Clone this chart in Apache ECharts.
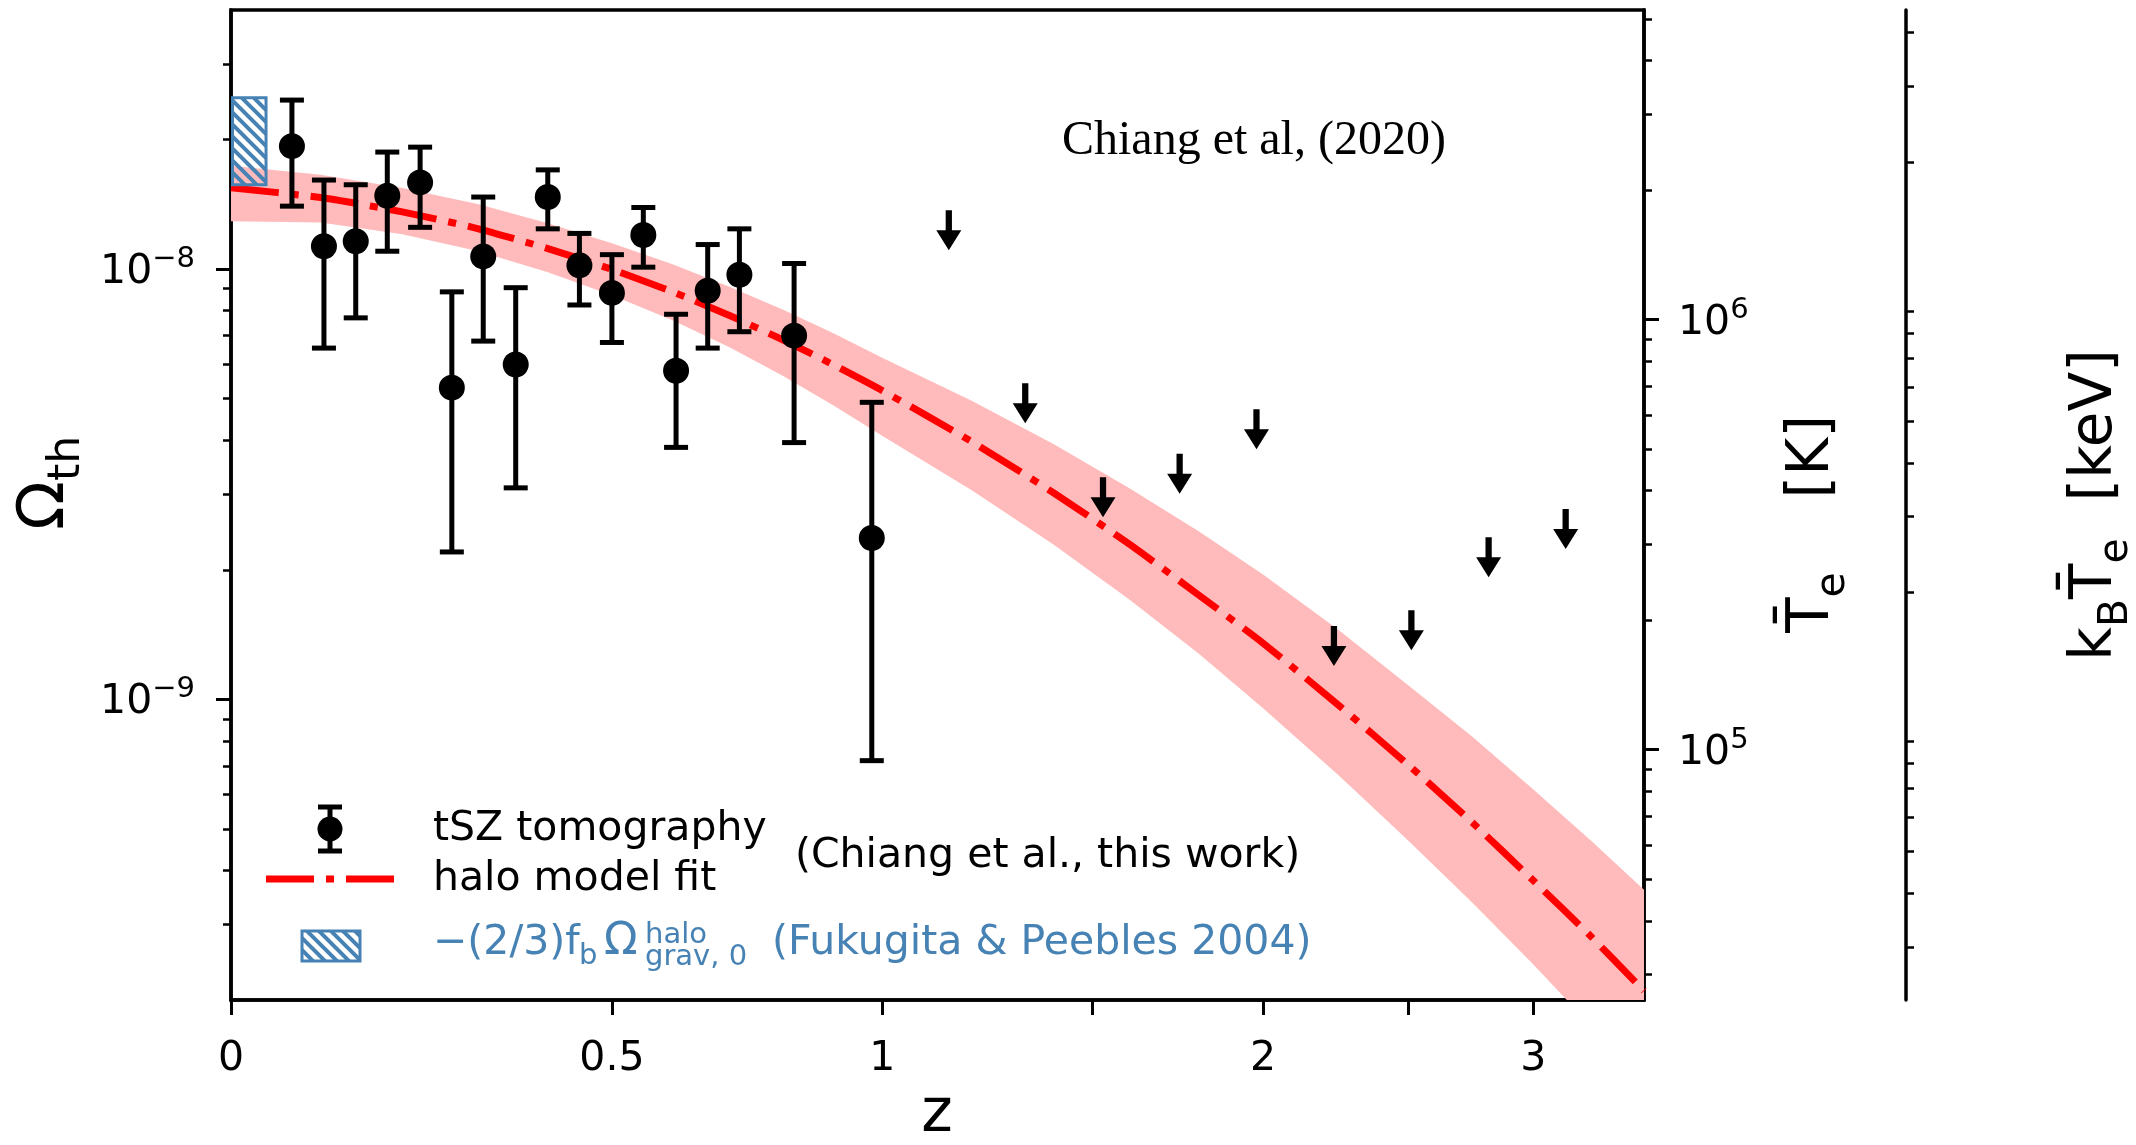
<!DOCTYPE html>
<html>
<head>
<meta charset="utf-8">
<script src="https://cdn.jsdelivr.net/npm/echarts@6/dist/echarts.min.js"></script>
<style>
html, body { margin: 0; padding: 0; background: #fff; }
#chart { width: 2136px; height: 1145px; }
</style>
</head>
<body>
<div id="chart"></div>
<script>
// tSZ tomography points: redshift, Omega_th and the ends of each error bar
const pointZ = [0.067, 0.104, 0.142, 0.181, 0.223, 0.265, 0.308, 0.354, 0.401, 0.449, 0.500, 0.551, 0.606, 0.661, 0.718, 0.821, 0.978];
const pointOmega = [1.93e-8, 1.13e-8, 1.16e-8, 1.48e-8, 1.59e-8, 5.3e-9, 1.07e-8, 6.0e-9, 1.47e-8, 1.02e-8, 8.8e-9, 1.20e-8, 5.8e-9, 8.9e-9, 9.7e-9, 7.0e-9, 2.37e-9];
const pointLow = [1.40e-8, 6.55e-9, 7.7e-9, 1.10e-8, 1.25e-8, 2.2e-9, 6.8e-9, 3.1e-9, 1.24e-8, 8.25e-9, 6.75e-9, 1.01e-8, 3.85e-9, 6.55e-9, 7.15e-9, 3.95e-9, 7.2e-10];
const pointHigh = [2.47e-8, 1.61e-8, 1.57e-8, 1.87e-8, 1.92e-8, 8.85e-9, 1.47e-8, 9.05e-9, 1.70e-8, 1.21e-8, 1.08e-8, 1.39e-8, 7.85e-9, 1.14e-8, 1.24e-8, 1.03e-8, 4.9e-9];

// upper limits (arrows)
const limitZ = [1.147, 1.329, 1.530, 1.745, 1.979, 2.235, 2.513, 2.814, 3.140];
const limitOmega = [1.37e-8, 5.43e-9, 3.28e-9, 3.72e-9, 4.72e-9, 1.48e-9, 1.61e-9, 2.38e-9, 2.77e-9];

// halo model fit and its band
const fitZ = [0, 0.1, 0.2, 0.3, 0.4, 0.5, 0.6, 0.7, 0.8, 0.9, 1.0, 1.2, 1.4, 1.6, 1.8, 2.0, 2.25, 2.5, 2.75, 3.0, 3.25, 3.5];
const fitOmega = [1.545e-8, 1.466e-8, 1.358e-8, 1.242e-8, 1.117e-8, 9.98e-9, 8.85e-9, 7.80e-9, 6.84e-9, 5.98e-9, 5.22e-9, 3.97e-9, 3.02e-9, 2.30e-9, 1.75e-9, 1.35e-9, 9.70e-10, 7.05e-10, 5.16e-10, 3.79e-10, 2.82e-10, 2.10e-10];
const bandLow = [1.291e-8, 1.282e-8, 1.205e-8, 1.102e-8, 9.84e-9, 8.69e-9, 7.60e-9, 6.58e-9, 5.64e-9, 4.81e-9, 4.10e-9, 3.06e-9, 2.29e-9, 1.71e-9, 1.28e-9, 9.53e-10, 6.67e-10, 4.70e-10, 3.36e-10, 2.42e-10, 1.75e-10, 1.27e-10];
const bandHigh = [1.738e-8, 1.656e-8, 1.542e-8, 1.416e-8, 1.279e-8, 1.148e-8, 1.026e-8, 9.10e-9, 8.04e-9, 7.08e-9, 6.22e-9, 4.94e-9, 3.92e-9, 3.10e-9, 2.46e-9, 1.95e-9, 1.45e-9, 1.08e-9, 8.17e-10, 6.17e-10, 4.71e-10, 3.61e-10];

// Fukugita & Peebles box
const fpZ = [0, 0.038];
const fpOmega = [1.57e-8, 2.5e-8];

// axes
const zTicks = [0, 0.5, 1, 1.5, 2, 2.5, 3];
const zTickLabels = ['0', '0.5', '1', '', '2', '', '3'];
const zMax = 3.5;
const omegaRange = [2.0e-10, 4.0e-8];
const omegaDecades = [-9, -8];
const kelvinDecades = [5, 6];
const keVDecades = [-2, -1];
const omegaToKelvin = 1.31e14;
const kelvinToKeV = 8.617e-5;

const lg = Math.log10;
const xz = z => lg(1 + z);
const FONT = 'DejaVu Sans';
const BLUE = '#4682b4';

function minorTicks(lo, hi) {
  const out = [];
  for (let e = Math.floor(lo); e <= Math.ceil(hi); e++) {
    for (let k = 2; k <= 9; k++) {
      const v = e + lg(k);
      if (v > lo && v < hi) out.push(v);
    }
  }
  return out;
}

function hatch(color) {
  const c = document.createElement('canvas');
  c.width = 12; c.height = 12;
  const g = c.getContext('2d');
  g.strokeStyle = color;
  g.lineWidth = 4;
  g.beginPath();
  for (let k = -12; k <= 12; k += 12) {
    g.moveTo(k - 2, -2);
    g.lineTo(k + 14, 14);
  }
  g.stroke();
  return c;
}
const hatchFill = { image: hatch(BLUE), repeat: 'repeat' };

const powLabel = v => {
  const n = Math.round(v);
  return '{b|10}{s|' + (n < 0 ? '\u2212' : '') + Math.abs(n) + '}';
};
const powRich = {
  b: { fontSize: 41, lineHeight: 48, verticalAlign: 'bottom', fontFamily: FONT, color: '#000' },
  s: { fontSize: 29, lineHeight: 29, verticalAlign: 'top', fontFamily: FONT, color: '#000' }
};

// a log axis = one yAxis for major ticks + labels and one for the short minor ticks
function logAxes(lo, hi, decades, position, offset, margin) {
  const major = {
    type: 'value', position: position, offset: offset, min: lo, max: hi,
    axisLine: { show: true, onZero: false, lineStyle: { color: '#000', width: 3.5 } },
    axisTick: { show: true, inside: false, length: 15, customValues: decades, lineStyle: { color: '#000', width: 3 } },
    axisLabel: { show: true, customValues: decades, formatter: powLabel, rich: powRich, margin: margin },
    splitLine: { show: false }
  };
  const minor = {
    type: 'value', position: position, offset: offset, min: lo, max: hi,
    axisLine: { show: false },
    axisTick: { show: true, inside: false, length: 8, customValues: minorTicks(lo, hi), lineStyle: { color: '#000', width: 2.5 } },
    axisLabel: { show: false },
    splitLine: { show: false }
  };
  return [major, minor];
}

const omegaLo = lg(omegaRange[0]), omegaHi = lg(omegaRange[1]);
const kLo = lg(omegaRange[0] * omegaToKelvin), kHi = lg(omegaRange[1] * omegaToKelvin);
const eLo = lg(omegaRange[0] * omegaToKelvin * kelvinToKeV), eHi = lg(omegaRange[1] * omegaToKelvin * kelvinToKeV);

const yAxes = []
  .concat(logAxes(omegaLo, omegaHi, omegaDecades, 'left', 0, 36))
  .concat(logAxes(kLo, kHi, kelvinDecades, 'right', 0, 34))
  .concat(logAxes(eLo, eHi, keVDecades, 'right', 262, 34));

const titleRich = {
  o: { fontSize: 58, lineHeight: 70, fontFamily: FONT, fill: '#000', verticalAlign: 'top' },
  s: { fontSize: 41, lineHeight: 41, fontFamily: FONT, fill: '#000', verticalAlign: 'bottom' }
};

const chart = echarts.init(document.getElementById('chart'));

const option = {
  animation: false,
  backgroundColor: '#fff',
  grid: {
    left: 231, right: 492, top: 10, bottom: 145,
    show: true, borderColor: '#000', borderWidth: 3.5,
    containLabel: false, outerBoundsMode: 'none'
  },
  xAxis: [{
    type: 'value', min: 0, max: xz(zMax),
    axisLine: { show: true, onZero: false, lineStyle: { color: '#000', width: 3.5 } },
    axisTick: { show: true, length: 15, customValues: zTicks.map(xz), lineStyle: { color: '#000', width: 3 } },
    axisLabel: {
      customValues: zTicks.filter((z, i) => zTickLabels[i] !== '').map(xz),
      formatter: v => {
        const i = zTicks.findIndex(z => Math.abs(xz(z) - v) < 1e-6);
        return i >= 0 ? zTickLabels[i] : '';
      },
      fontSize: 41, fontFamily: FONT, color: '#000', margin: 39
    },
    splitLine: { show: false }
  }],
  yAxis: yAxes,
  series: [
    {
      // band of the halo model fit
      type: 'custom', name: 'band', xAxisIndex: 0, yAxisIndex: 0,
      clip: true, silent: true, z: 1,
      data: [[xz(fitZ[0]), lg(fitOmega[0])]],
      renderItem: (params, api) => {
        const upper = fitZ.map((z, i) => api.coord([xz(z), lg(bandHigh[i])]));
        const lower = fitZ.map((z, i) => api.coord([xz(z), lg(bandLow[i])])).reverse();
        const cs = params.coordSys;
        return {
          type: 'polygon',
          shape: { points: upper.concat(lower) },
          style: { fill: '#ffbbbb' },
          clipPath: { type: 'rect', shape: { x: cs.x, y: cs.y, width: cs.width, height: cs.height } }
        };
      }
    },
    {
      type: 'line', name: 'halo model fit', xAxisIndex: 0, yAxisIndex: 0, z: 2,
      data: fitZ.map((z, i) => [xz(z), lg(fitOmega[i])]),
      showSymbol: false, smooth: 0.2, silent: true,
      lineStyle: { color: '#ff0000', width: 7, type: [48, 12, 8, 12], cap: 'butt' }
    },
    {
      // Fukugita & Peebles hatched box
      type: 'custom', name: 'fp04', xAxisIndex: 0, yAxisIndex: 0, z: 3, silent: true,
      data: [[xz(fpZ[0]), lg(fpOmega[0]), xz(fpZ[1]), lg(fpOmega[1])]],
      encode: { x: [0, 2], y: [1, 3] },
      renderItem: (params, api) => {
        const p0 = api.coord([api.value(0), api.value(1)]);
        const p1 = api.coord([api.value(2), api.value(3)]);
        return {
          type: 'rect',
          shape: { x: p0[0] + 1.5, y: p1[1], width: p1[0] - p0[0] - 1.5, height: p0[1] - p1[1] },
          style: { fill: hatchFill, stroke: BLUE, lineWidth: 3 }
        };
      }
    },
    {
      type: 'custom', name: 'errors', xAxisIndex: 0, yAxisIndex: 0, z: 4, silent: true,
      data: pointZ.map((z, i) => [xz(z), lg(pointLow[i]), lg(pointHigh[i])]),
      encode: { x: 0, y: [1, 2] },
      renderItem: (params, api) => {
        const x = api.value(0);
        const top = api.coord([x, api.value(2)]);
        const bot = api.coord([x, api.value(1)]);
        const hw = 12;
        const style = { stroke: '#000', lineWidth: 5 };
        return {
          type: 'group',
          children: [
            { type: 'line', shape: { x1: top[0], y1: top[1], x2: bot[0], y2: bot[1] }, style: style },
            { type: 'line', shape: { x1: top[0] - hw, y1: top[1], x2: top[0] + hw, y2: top[1] }, style: style },
            { type: 'line', shape: { x1: bot[0] - hw, y1: bot[1], x2: bot[0] + hw, y2: bot[1] }, style: style }
          ]
        };
      }
    },
    {
      type: 'scatter', name: 'tSZ tomography', xAxisIndex: 0, yAxisIndex: 0, z: 5, silent: true,
      data: pointZ.map((z, i) => [xz(z), lg(pointOmega[i])]),
      symbol: 'circle', symbolSize: 26,
      itemStyle: { color: '#000', opacity: 1 }
    },
    {
      type: 'scatter', name: 'upper limits', xAxisIndex: 0, yAxisIndex: 0, z: 5, silent: true,
      data: limitZ.map((z, i) => [xz(z), lg(limitOmega[i])]),
      symbol: 'path://M9,0 L15,0 L15,20 L24,20 L12,40 L0,20 L9,20 Z',
      symbolSize: [25, 40], symbolOffset: [0, '50%'],
      itemStyle: { color: '#000', opacity: 1 }
    }
  ],
  graphic: [
    // axis titles
    {
      type: 'text', x: 52, y: 483, rotation: Math.PI / 2,
      style: {
        text: '{o|\u03a9}{s|th}', align: 'center', verticalAlign: 'middle',
        rich: {
          o: { fontSize: 64, lineHeight: 76, fontFamily: FONT, fill: '#000', verticalAlign: 'top' },
          s: { fontSize: 44, lineHeight: 44, fontFamily: FONT, fill: '#000', verticalAlign: 'bottom' }
        }
      }
    },
    {
      type: 'text', x: 937, y: 1115,
      style: { text: 'z', fontSize: 60, fontFamily: FONT, fill: '#000', align: 'center', verticalAlign: 'middle' }
    },
    {
      type: 'text', x: 1819, y: 524, rotation: Math.PI / 2,
      style: { text: '{o|T\u0304}{s|e}{o|    [K]}', align: 'center', verticalAlign: 'middle', rich: titleRich }
    },
    {
      type: 'text', x: 2102, y: 505, rotation: Math.PI / 2,
      style: { text: '{o|k}{s|B}{o|T\u0304}{s|e}{o|  [keV]}', align: 'center', verticalAlign: 'middle', rich: titleRich }
    },
    // annotation
    {
      type: 'text', x: 1062, y: 141,
      style: { text: 'Chiang et al, (2020)', fontSize: 48, fontFamily: 'Liberation Serif', fill: '#000', align: 'left', verticalAlign: 'middle' }
    },
    // legend: error bar icon
    { type: 'line', shape: { x1: 330, y1: 807, x2: 330, y2: 851 }, style: { stroke: '#000', lineWidth: 5 } },
    { type: 'line', shape: { x1: 318, y1: 807, x2: 342, y2: 807 }, style: { stroke: '#000', lineWidth: 5 } },
    { type: 'line', shape: { x1: 318, y1: 851, x2: 342, y2: 851 }, style: { stroke: '#000', lineWidth: 5 } },
    { type: 'circle', shape: { cx: 330, cy: 829, r: 12.5 }, style: { fill: '#000' } },
    {
      type: 'text', x: 433, y: 829,
      style: { text: 'tSZ tomography', fontSize: 41, fontFamily: FONT, fill: '#000', align: 'left', verticalAlign: 'middle' }
    },
    // legend: fit line
    {
      type: 'line', shape: { x1: 266, y1: 879, x2: 394, y2: 879 },
      style: { stroke: '#ff0000', lineWidth: 7, lineDash: [48, 12, 8, 12], lineCap: 'butt' }
    },
    {
      type: 'text', x: 433, y: 879,
      style: { text: 'halo model fit', fontSize: 41, fontFamily: FONT, fill: '#000', align: 'left', verticalAlign: 'middle' }
    },
    {
      type: 'text', x: 795, y: 856,
      style: { text: '(Chiang et al., this work)', fontSize: 41, fontFamily: FONT, fill: '#000', align: 'left', verticalAlign: 'middle' }
    },
    // legend: hatched box
    {
      type: 'rect', shape: { x: 302, y: 931, width: 58, height: 30 },
      style: { fill: hatchFill, stroke: BLUE, lineWidth: 3 }
    },
    {
      type: 'text', x: 433, y: 943,
      style: { text: '\u2212(2/3)f', fontSize: 41, fontFamily: FONT, fill: BLUE, align: 'left', verticalAlign: 'middle' }
    },
    {
      type: 'text', x: 579, y: 956,
      style: { text: 'b', fontSize: 29, fontFamily: FONT, fill: BLUE, align: 'left', verticalAlign: 'middle' }
    },
    {
      type: 'text', x: 604, y: 943,
      style: { text: '\u03a9', fontSize: 44, fontFamily: FONT, fill: BLUE, align: 'left', verticalAlign: 'middle' }
    },
    {
      type: 'text', x: 645, y: 935,
      style: { text: 'halo', fontSize: 29, fontFamily: FONT, fill: BLUE, align: 'left', verticalAlign: 'middle' }
    },
    {
      type: 'text', x: 645, y: 957,
      style: { text: 'grav, 0', fontSize: 29, fontFamily: FONT, fill: BLUE, align: 'left', verticalAlign: 'middle' }
    },
    {
      type: 'text', x: 772, y: 943,
      style: { text: '(Fukugita & Peebles 2004)', fontSize: 41, fontFamily: FONT, fill: BLUE, align: 'left', verticalAlign: 'middle' }
    }
  ]
};

chart.setOption(option);
</script>
</body>
</html>
